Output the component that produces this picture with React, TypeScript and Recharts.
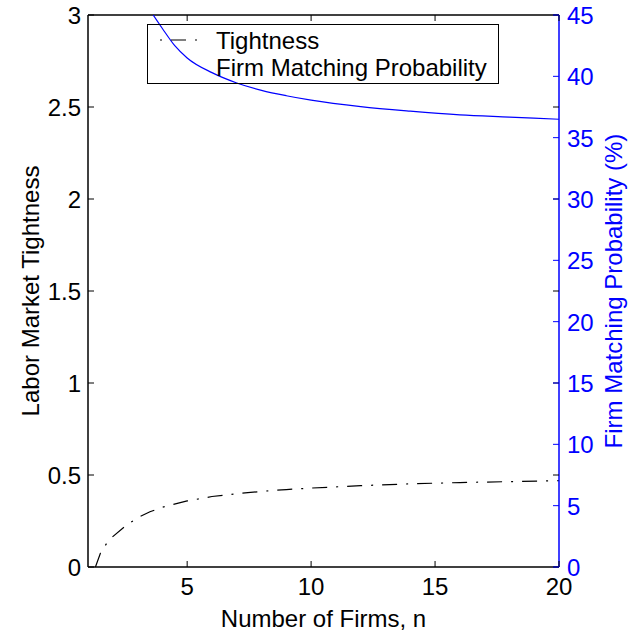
import React from 'react';
import { LineChart, Line, XAxis, YAxis, ReferenceLine, Legend, Label } from 'recharts';

// number of firms and labour market tightness (dash-dot, left axis)
const nTight = [1.3, 1.5, 1.75, 2, 2.5, 3, 3.5, 4, 5, 6, 7, 8, 9, 10, 12, 14, 16, 18, 20];
const tightness = [0, 0.075, 0.128, 0.165, 0.222, 0.268, 0.3, 0.325, 0.359, 0.383, 0.398, 0.411, 0.421, 0.429, 0.442, 0.452, 0.459, 0.464, 0.469];

// firm matching probability in % (blue, right axis)
const nProb = [3.63, 4, 4.5, 5, 6, 7, 8, 9, 10, 12, 14, 16, 18, 20];
const matchProb = [45, 43.9, 42.5, 41.5, 40.3, 39.46, 38.86, 38.42, 38.06, 37.53, 37.16, 36.86, 36.68, 36.5];

const xTicks = [5, 10, 15, 20];
const leftTicks = [0, 0.5, 1, 1.5, 2, 2.5, 3];
const rightTicks = [0, 5, 10, 15, 20, 25, 30, 35, 40, 45];

const tightData = nTight.map((n, i) => ({ n, v: tightness[i] }));
const probData = nProb.map((n, i) => ({ n, v: matchProb[i] }));

const W = 631;
const H = 636;
const PLOT_W = 471;
const PLOT_H = 552;
const FONT = '"Liberation Sans", Arial, Helvetica, sans-serif';
const FS = 24;
const BLUE = '#0000ff';
const TICK = 6;

const XTick = ({ x, y, payload }: any) => {
  const axisY = y - 11;
  return (
    <g>
      <line x1={x} x2={x} y1={axisY} y2={axisY - TICK} stroke="#000" />
      <line x1={x} x2={x} y1={axisY - PLOT_H} y2={axisY - PLOT_H + TICK} stroke="#000" />
      <text x={x} y={y} dy="0.71em" textAnchor="middle" fontSize={FS} fill="#000">
        {payload.value}
      </text>
    </g>
  );
};

const LeftTick = ({ x, y, payload }: any) => {
  const axisX = x + 7;
  return (
    <g>
      <line x1={axisX} x2={axisX + TICK} y1={y} y2={y} stroke="#000" />
      <line x1={axisX + PLOT_W} x2={axisX + PLOT_W - TICK} y1={y} y2={y} stroke="#000" />
      <text x={x} y={y} dy="0.38em" textAnchor="end" fontSize={FS} fill="#000">
        {payload.value}
      </text>
    </g>
  );
};

const RightTick = ({ x, y, payload }: any) => {
  const axisX = x - 8;
  return (
    <g>
      <line x1={axisX} x2={axisX - TICK} y1={y} y2={y} stroke={BLUE} />
      <text x={x} y={y} dy="0.38em" textAnchor="start" fontSize={FS} fill={BLUE}>
        {payload.value}
      </text>
    </g>
  );
};

const renderLegend = () => (
  <svg width={352} height={60} style={{ display: 'block', overflow: 'visible' }}>
    <rect x={0.5} y={0.5} width={351} height={59} fill="none" stroke="#000" />
    <line x1={13} x2={53} y1={16} y2={16} stroke="#000" strokeWidth={1.2} strokeDasharray="2 9 15 9 2 9" />
    <text x={69} y={25} fontSize={FS} fontFamily={FONT} fill="#000">Tightness</text>
    <text x={69} y={52} fontSize={FS} fontFamily={FONT} fill="#000">Firm Matching Probability</text>
  </svg>
);

export default function App() {
  return (
    <div style={{ position: 'absolute', left: 0, top: 0, width: W, height: H, background: '#fff', fontFamily: FONT }}>
      <LineChart width={W} height={H} margin={{ top: 15, right: 0, bottom: 0, left: 0 }}>
        <XAxis
          dataKey="n"
          type="number"
          domain={[1, 20]}
          ticks={xTicks}
          allowDataOverflow
          height={69}
          tickSize={0}
          tickMargin={11}
          tickLine={false}
          tick={<XTick />}
          axisLine={{ stroke: '#000', strokeWidth: 1.5 }}
        >
          <Label
            content={() => (
              <text x={323.5} y={627} textAnchor="middle" fontSize={FS} fill="#000">
                Number of Firms, n
              </text>
            )}
          />
        </XAxis>
        <YAxis
          yAxisId="left"
          orientation="left"
          type="number"
          domain={[0, 3]}
          ticks={leftTicks}
          width={88}
          tickSize={0}
          tickMargin={7}
          tickLine={false}
          tick={<LeftTick />}
          axisLine={{ stroke: '#000', strokeWidth: 1.5 }}
        >
          <Label
            content={() => (
              <text x={39} y={291} transform="rotate(-90 39 291)" textAnchor="middle" fontSize={FS} fill="#000">
                Labor Market Tightness
              </text>
            )}
          />
        </YAxis>
        <YAxis
          yAxisId="right"
          orientation="right"
          type="number"
          domain={[0, 45]}
          ticks={rightTicks}
          allowDataOverflow
          width={72}
          tickSize={0}
          tickMargin={8}
          tickLine={false}
          tick={<RightTick />}
          axisLine={{ stroke: BLUE, strokeWidth: 1.5 }}
        >
          <Label
            content={() => (
              <text x={622} y={291} transform="rotate(-90 622 291)" textAnchor="middle" fontSize={FS} fill={BLUE}>
                Firm Matching Probability (%)
              </text>
            )}
          />
        </YAxis>
        <ReferenceLine yAxisId="left" y={3} stroke="#000" strokeWidth={1.5} />
        <Line
          yAxisId="left"
          data={tightData}
          dataKey="v"
          type="linear"
          stroke="#000"
          strokeWidth={1.2}
          strokeDasharray="15 9 2 9"
          dot={false}
          isAnimationActive={false}
        />
        <Line
          yAxisId="right"
          data={probData}
          dataKey="v"
          type="monotone"
          stroke={BLUE}
          strokeWidth={1.2}
          dot={false}
          isAnimationActive={false}
        />
        <Legend
          layout="horizontal"
          verticalAlign="middle"
          align="center"
          content={renderLegend}
          wrapperStyle={{ position: 'absolute', left: 147, top: 24, width: 352, height: 60 }}
        />
      </LineChart>
    </div>
  );
}
